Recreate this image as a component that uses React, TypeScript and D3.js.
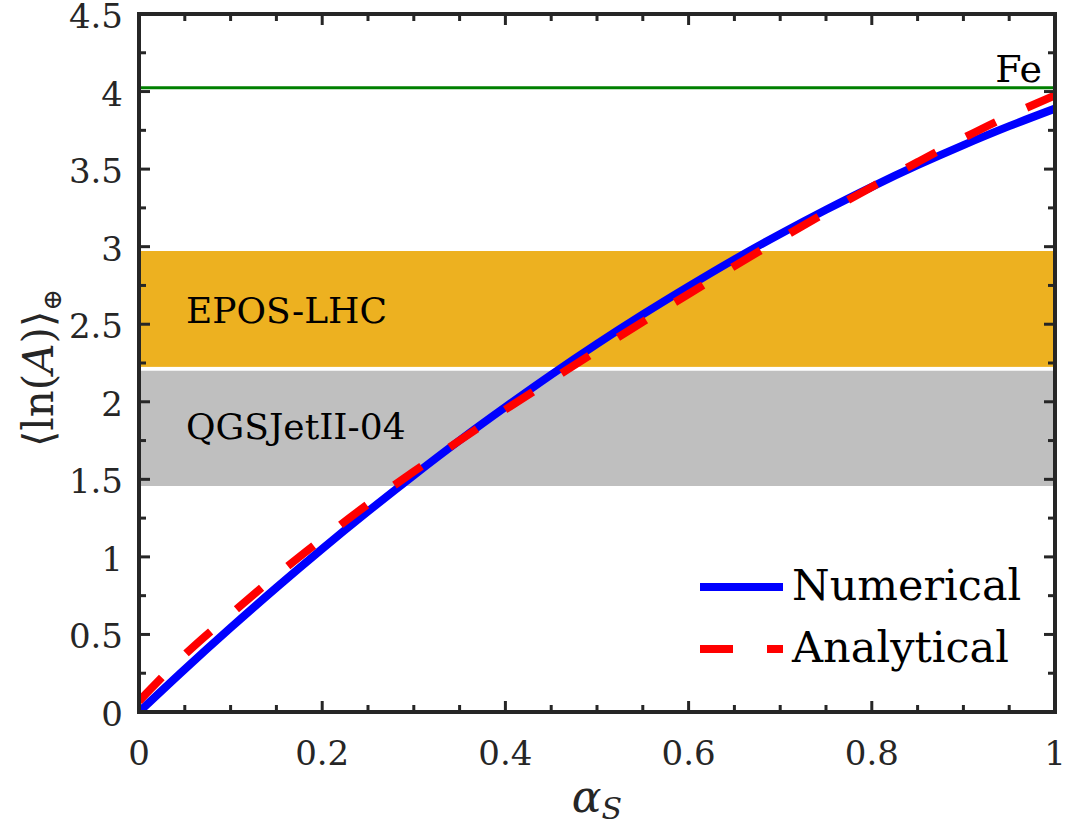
import React from "react";
import * as d3 from "d3";

const alphaS = [0, 0.05, 0.1, 0.15, 0.2, 0.25, 0.3, 0.35, 0.4, 0.45, 0.5, 0.55, 0.6, 0.65, 0.7, 0.75, 0.8, 0.85, 0.9, 0.95, 1.0];
const numerical = [0, 0.276, 0.543, 0.802, 1.052, 1.293, 1.526, 1.751, 1.966, 2.174, 2.373, 2.563, 2.744, 2.918, 3.082, 3.238, 3.386, 3.525, 3.655, 3.777, 3.89];
const analytical = [0.07, 0.37, 0.63, 0.88, 1.115, 1.34, 1.55, 1.75, 1.95, 2.14, 2.33, 2.515, 2.695, 2.875, 3.05, 3.22, 3.385, 3.545, 3.70, 3.845, 3.975];

const bandNames = ["EPOS-LHC", "QGSJetII-04"];
const bandLow = [2.225, 1.457];
const bandHigh = [2.972, 2.2];
const bandColors = ["#EDB120", "#BFBFBF"];
const bandLabelY = [2.6, 1.85];

const feLevel = 4.025;

const xMajor = [0, 0.2, 0.4, 0.6, 0.8, 1];
const xMajorLabels = ["0", "0.2", "0.4", "0.6", "0.8", "1"];
const yMajor = [0, 0.5, 1, 1.5, 2, 2.5, 3, 3.5, 4, 4.5];
const yMajorLabels = ["0", "0.5", "1", "1.5", "2", "2.5", "3", "3.5", "4", "4.5"];
const xMinorStep = 0.05;
const yMinorStep = 0.25;

const W = 1068, H = 827;
const L = 139, R = 1055, T = 14, B = 712;
const axisColor = "#262626";
const serif = "DejaVu Serif";

export default function App() {
  const x = d3.scaleLinear().domain([0, 1]).range([L, R]);
  const y = d3.scaleLinear().domain([0, 4.5]).range([B, T]);
  const xMinor = d3.range(0, 1 + 1e-9, xMinorStep);
  const yMinor = d3.range(0, 4.5 + 1e-9, yMinorStep);

  const line = d3.line<number>()
    .x((_, i) => x(alphaS[i]))
    .y((d) => y(d))
    .curve(d3.curveCatmullRom.alpha(0.5));

  return (
    <svg width={W} height={H} style={{ position: "absolute", left: 0, top: 0, background: "#fff" }}>
      <defs>
        <clipPath id="plotClip">
          <rect x={L} y={T} width={R - L} height={B - T} />
        </clipPath>
      </defs>
      <rect x={0} y={0} width={W} height={H} fill="#fff" />
      {bandNames.map((n, i) => (
        <g key={n}>
          <rect x={L} y={y(bandHigh[i])} width={R - L} height={y(bandLow[i]) - y(bandHigh[i])} fill={bandColors[i]} />
          <text x={186} y={y(bandLabelY[i]) + 14} fontSize={36} fill="#000" fontFamily={serif}>{n}</text>
        </g>
      ))}
      <line x1={L} x2={R} y1={y(feLevel)} y2={y(feLevel)} stroke="#008000" strokeWidth={3} />
      <text x={1042} y={82} fontSize={38} textAnchor="end" fill="#000" fontFamily={serif}>Fe</text>
      <g clipPath="url(#plotClip)">
        <path d={line(numerical) || ""} fill="none" stroke="#0000FF" strokeWidth={8} />
        <path d={line(analytical) || ""} fill="none" stroke="#FF0000" strokeWidth={8} strokeDasharray="33,34" />
      </g>
      <g stroke={axisColor} strokeWidth={3}>
        {xMinor.map((v) => {
          const major = xMajor.some((m) => Math.abs(m - v) < 1e-6);
          const len = major ? 11 : 7;
          return (
            <g key={"xt" + v}>
              <line x1={x(v)} x2={x(v)} y1={B} y2={B - len} />
              <line x1={x(v)} x2={x(v)} y1={T} y2={T + len} />
            </g>
          );
        })}
        {yMinor.map((v) => {
          const major = yMajor.some((m) => Math.abs(m - v) < 1e-6);
          const len = major ? 11 : 7;
          return (
            <g key={"yt" + v}>
              <line x1={L} x2={L + len} y1={y(v)} y2={y(v)} />
              <line x1={R} x2={R - len} y1={y(v)} y2={y(v)} />
            </g>
          );
        })}
      </g>
      <rect x={L} y={T} width={R - L} height={B - T} fill="none" stroke={axisColor} strokeWidth={4} />
      {xMajor.map((v, i) => (
        <text key={"xl" + v} x={x(v)} y={765} fontSize={34} textAnchor="middle" fill={axisColor} fontFamily={serif}>{xMajorLabels[i]}</text>
      ))}
      {yMajor.map((v, i) => (
        <text key={"yl" + v} x={123} y={y(v) + 14} fontSize={34} textAnchor="end" fill={axisColor} fontFamily={serif}>{yMajorLabels[i]}</text>
      ))}
      <text x={597} y={812} fontSize={44} textAnchor="middle" fill={axisColor} fontFamily={serif}>
        <tspan fontStyle="italic">α</tspan>
        <tspan fontStyle="italic" fontSize={30} dy={7}>S</tspan>
      </text>
      <text transform={`translate(53, 368) rotate(-90)`} fontSize={42} textAnchor="middle" fill={axisColor} fontFamily={serif}>
        <tspan>⟨ln(</tspan>
        <tspan fontStyle="italic">A</tspan>
        <tspan>)⟩</tspan>
        <tspan fontSize={26} dy={8}>⊕</tspan>
      </text>
      <line x1={700} x2={783} y1={587} y2={587} stroke="#0000FF" strokeWidth={8} />
      <line x1={700} x2={783} y1={649} y2={649} stroke="#FF0000" strokeWidth={8} strokeDasharray="33,34" />
      <text x={792} y={600} fontSize={43} fill="#000" fontFamily={serif}>Numerical</text>
      <text x={792} y={662} fontSize={43} fill="#000" fontFamily={serif}>Analytical</text>
    </svg>
  );
}
